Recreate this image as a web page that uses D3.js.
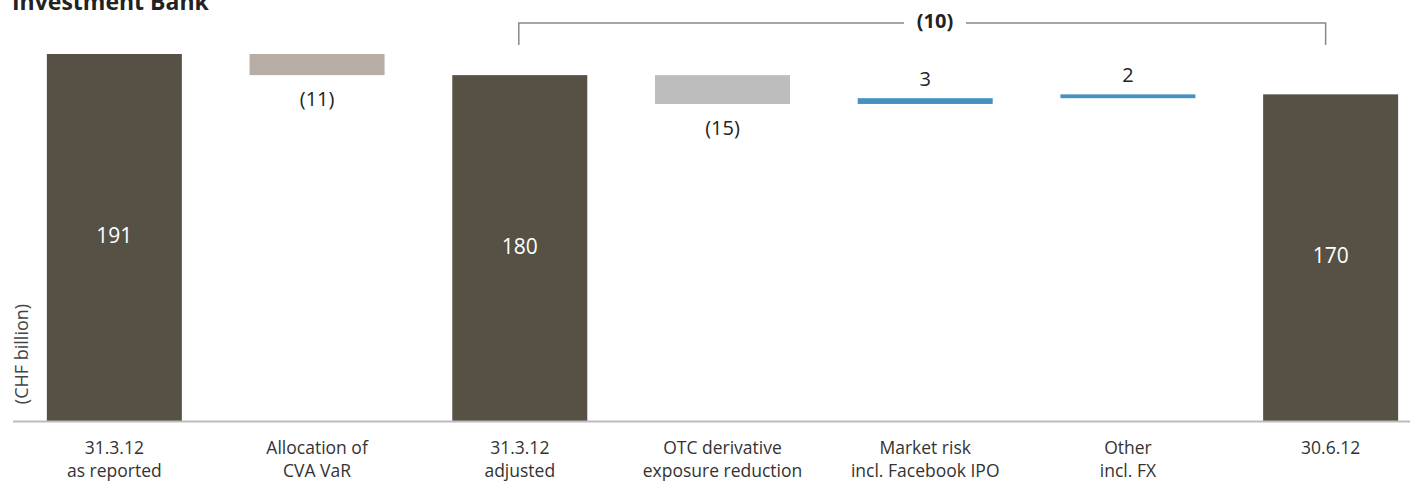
<!DOCTYPE html>
<html>
<head>
<meta charset="utf-8">
<script src="https://cdn.jsdelivr.net/npm/d3@7"></script>
<style>
  body { margin: 0; background: #fff; }
  text { font-family: "Open Sans", "Noto Sans", sans-serif; }
</style>
</head>
<body>
<div id="chart"></div>
<script>
// chart data
var categories = [
  ["31.3.12", "as reported"],
  ["Allocation of", "CVA VaR"],
  ["31.3.12", "adjusted"],
  ["OTC derivative", "exposure reduction"],
  ["Market risk", "incl. Facebook IPO"],
  ["Other", "incl. FX"],
  ["30.6.12"]
];
var values = [191, -11, 180, -15, 3, 2, 170];
var isTotal = [true, false, true, false, false, false, true];
var valueLabels = ["191", "(11)", "180", "(15)", "3", "2", "170"];
var bracketLabel = "(10)";
var bracketFrom = 2, bracketTo = 6;

// styling
var width = 1410, height = 489;
var baseY = 421;
var fills = ["#575145", "#b7ada5", "#575145", "#bdbdbd", "#4591c1", "#4591c1", "#575145"];

var svg = d3.select("#chart")
  .append("svg")
  .attr("width", width)
  .attr("height", height);

// build waterfall start/end
var running = 0;
var rows = values.map(function(v, i) {
  var r;
  if (isTotal[i]) {
    r = {start: 0, end: v};
    running = v;
  } else {
    r = {start: running, end: running + v};
    running = running + v;
  }
  r.i = i;
  r.value = v;
  r.total = isTotal[i];
  return r;
});

var x = d3.scaleBand()
  .domain(d3.range(categories.length))
  .range([13, 1432])
  .paddingInner(0.334)
  .paddingOuter(0.167);

var y = d3.scaleLinear()
  .domain([0, 191])
  .range([baseY, 54]);

// title (cut at the top like the original)
svg.append("text")
  .attr("x", 12)
  .attr("y", 10)
  .style("font-weight", "bold")
  .style("font-size", "23px")
  .style("fill", "#222")
  .text("Investment Bank");

// bars
svg.selectAll("rect.bar")
  .data(rows)
  .enter()
  .append("rect")
  .attr("class", "bar")
  .attr("x", function(d) { return x(d.i); })
  .attr("width", x.bandwidth())
  .attr("y", function(d) { return y(Math.max(d.start, d.end)); })
  .attr("height", function(d) { return Math.abs(y(d.start) - y(d.end)); })
  .attr("fill", function(d, i) { return fills[i]; });

// baseline
svg.append("line")
  .attr("x1", 13).attr("x2", width)
  .attr("y1", baseY + 0.5).attr("y2", baseY + 0.5)
  .attr("stroke", "#bbb")
  .attr("stroke-width", 2);

// value labels
svg.selectAll("text.val")
  .data(rows)
  .enter()
  .append("text")
  .attr("class", "val")
  .attr("x", function(d) { return x(d.i) + x.bandwidth() / 2; })
  .attr("y", function(d) {
    if (d.total) return (y(d.end) + y(0)) / 2;
    if (d.value < 0) return y(d.end) + 26;
    return y(d.end) - 18;
  })
  .attr("text-anchor", "middle")
  .attr("dominant-baseline", "middle")
  .style("font-size", function(d) { return d.total ? "21px" : "20px"; })
  .style("fill", function(d) { return d.total ? "#fff" : "#222"; })
  .text(function(d, i) { return valueLabels[i]; });

// bracket
var bx1 = x(bracketFrom) + x.bandwidth() / 2 - 1;
var bx2 = x(bracketTo) + x.bandwidth() / 2 - 5;
var by = 23, bBottom = 45;
var labelX = 935, gap = 31;
svg.append("path")
  .attr("d", "M" + bx1 + "," + bBottom + "V" + by + "H" + (labelX - gap))
  .attr("fill", "none").attr("stroke", "#888").attr("stroke-width", 1.5);
svg.append("path")
  .attr("d", "M" + (labelX + gap) + "," + by + "H" + bx2 + "V" + bBottom)
  .attr("fill", "none").attr("stroke", "#888").attr("stroke-width", 1.5);
svg.append("text")
  .attr("x", labelX)
  .attr("y", by)
  .attr("text-anchor", "middle")
  .attr("dominant-baseline", "middle")
  .style("font-size", "20px")
  .style("font-weight", "bold")
  .style("fill", "#222")
  .text(bracketLabel);

// y axis label
svg.append("text")
  .attr("transform", "translate(28,354) rotate(-90)")
  .attr("text-anchor", "middle")
  .style("font-size", "18px")
  .style("fill", "#444")
  .text("(CHF billion)");

// category labels
var cat = svg.selectAll("text.cat")
  .data(categories)
  .enter()
  .append("text")
  .attr("class", "cat")
  .attr("x", function(d, i) { return x(i) + x.bandwidth() / 2; })
  .attr("y", 454)
  .attr("text-anchor", "middle")
  .style("font-size", "17.5px")
  .style("fill", "#333");
cat.selectAll("tspan")
  .data(function(d) { return d; })
  .enter()
  .append("tspan")
  .attr("x", function() { return d3.select(this.parentNode).attr("x"); })
  .attr("dy", function(d, i) { return i === 0 ? 0 : 23; })
  .text(function(d) { return d; });
</script>
</body>
</html>
